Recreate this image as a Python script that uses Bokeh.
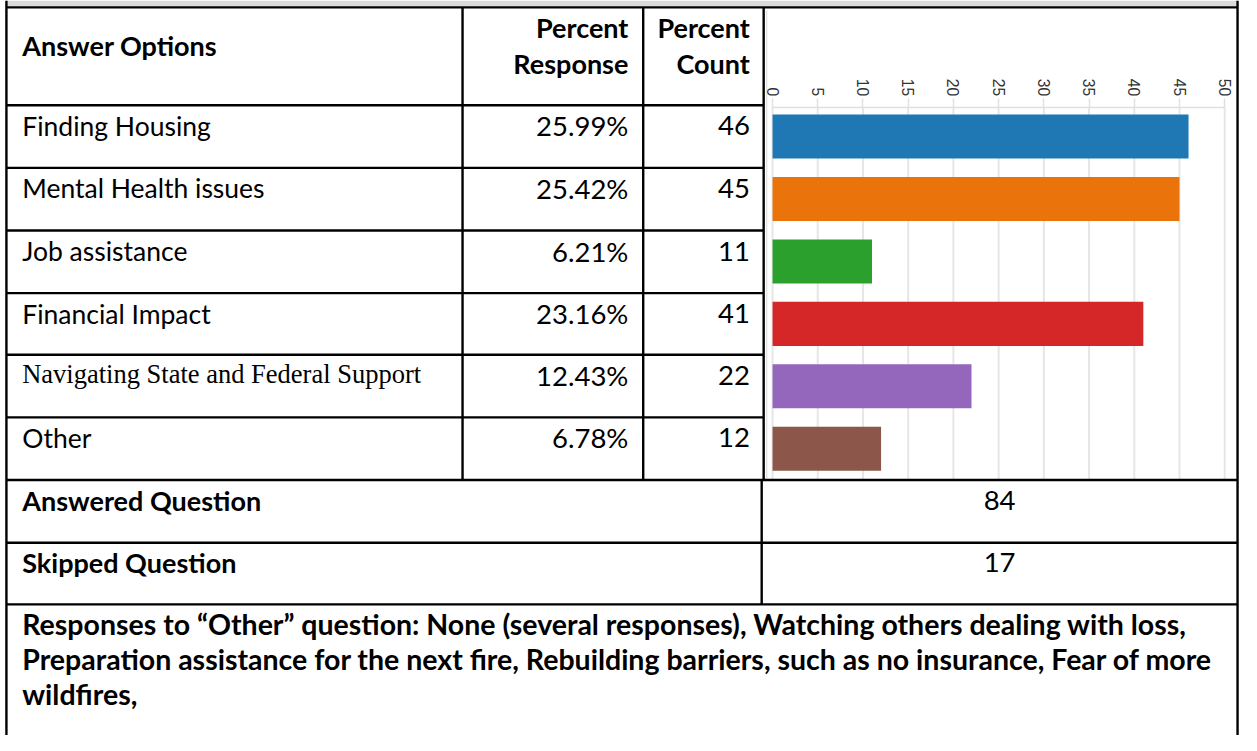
import math
from bokeh.plotting import figure
from bokeh.models import Range1d, LinearAxis, FixedTicker, ColumnDataSource
from bokeh.core.properties import value
from bokeh.embed import file_html
from bokeh.resources import INLINE

# ---------------- data ----------------
OPTIONS = [
    "Finding Housing",
    "Mental Health issues",
    "Job assistance",
    "Financial Impact",
    "Navigating State and Federal Support",
    "Other",
]
PERCENT_RESPONSE = [25.99, 25.42, 6.21, 23.16, 12.43, 6.78]
COUNTS = [46, 45, 11, 41, 22, 12]
BAR_COLORS = ["#1f77b4", "#ea730c", "#2ca02c", "#d62728", "#9467bd", "#8c564b"]
TICKS = [0, 5, 10, 15, 20, 25, 30, 35, 40, 45, 50]
HEADER_OPTIONS = "Answer Options"
HEADER_RESPONSE = ["Percent", "Response"]
HEADER_COUNT = ["Percent", "Count"]
ANSWERED_LABEL = "Answered Question"
ANSWERED = 84
SKIPPED_LABEL = "Skipped Question"
SKIPPED = 17
OTHER_LINES = [
    "Responses to \u201cOther\u201d question: None (several responses), Watching others dealing with loss,",
    "Preparation assistance for the next fire, Rebuilding barriers, such as no insurance, Fear of more",
    "wildfires,",
]

# ---------------- layout (reference pixel space) ----------------
REF_W, REF_H = 1257, 751
W, H = 1241, 735
FS = (W / REF_W + H / REF_H) / 2.0

LEFT, RIGHT = 6, 1253
TOP_LINE = 7
COL1, COL2, COL3, COL3B = 468, 651, 773, 771
HEAD_BOT = 107
ROW_LINES = [171, 235, 299, 362, 426]
ROWS_BOT = 490
SUM_LINES = [554, 617]
X0_PX, X50_PX = 782, 1240

def px(v):
    return "%.1fpx" % (v * FS)

p = figure(width=W, height=H, x_range=Range1d(0, REF_W), y_range=Range1d(REF_H, 0),
           output_backend="svg", toolbar_location=None,
           x_axis_location=None, y_axis_location=None, min_border=0,
           outline_line_color=None, background_fill_color="white",
           border_fill_color="white")
p.xgrid.visible = False
p.ygrid.visible = False

# value range and row range for the chart column
k = (X50_PX - X0_PX) / float(TICKS[-1] - TICKS[0])
p.extra_x_ranges = {"val": Range1d(-X0_PX / k, (REF_W - X0_PX) / k)}
pitch = (ROWS_BOT - HEAD_BOT) / float(len(OPTIONS))
p.extra_y_ranges = {"rows": Range1d((REF_H - HEAD_BOT) / pitch - 0.5, -HEAD_BOT / pitch - 0.5)}

# top grey band
p.quad(left=[LEFT], right=[RIGHT], top=[0], bottom=[TOP_LINE - 1], fill_color="#d9d9d9", line_color=None)

# chart faint frame line
p.segment(x0=[776], y0=[10], x1=[776], y1=[ROWS_BOT], line_color="#e4e4e4", line_width=1.5)

# grid lines
p.segment(x0=TICKS, y0=[109] * len(TICKS), x1=TICKS, y1=[ROWS_BOT] * len(TICKS),
          line_color="#e6e6e6", line_width=2, x_range_name="val")

# bars
src = ColumnDataSource(dict(idx=list(range(len(OPTIONS))), count=COUNTS, color=BAR_COLORS))
p.hbar(y="idx", left=0, right="count", height=0.705, fill_color="color", line_color=None,
       source=src, x_range_name="val", y_range_name="rows")

# axis
ax = LinearAxis(x_range_name="val", ticker=FixedTicker(ticks=TICKS), bounds=(TICKS[0], TICKS[-1]),
                fixed_location=109, major_label_orientation=-math.pi / 2,
                axis_line_color="#e0e0e0", axis_line_width=1.5,
                major_tick_line_color="#e0e0e0", major_tick_line_width=1.5,
                major_tick_out=9, major_tick_in=0, minor_tick_line_color=None,
                major_label_text_font="Liberation Sans", major_label_text_font_size=px(16),
                major_label_text_color="#333333", major_label_standoff=2)
p.add_layout(ax, "above")

# table lines
hx0, hy0, hx1, hy1 = [], [], [], []
def hline(y, x0, x1):
    hx0.append(x0); hx1.append(x1); hy0.append(y); hy1.append(y)
def vline(x, y0, y1):
    hx0.append(x); hx1.append(x); hy0.append(y0); hy1.append(y1)

hline(TOP_LINE, LEFT, RIGHT)
hline(HEAD_BOT, LEFT, COL3)
for y in ROW_LINES:
    hline(y, LEFT, COL3)
hline(ROWS_BOT, LEFT, RIGHT)
for y in SUM_LINES:
    hline(y, LEFT, RIGHT)
vline(LEFT, 0, REF_H)
vline(RIGHT, 0, REF_H)
vline(COL1, TOP_LINE, ROWS_BOT)
vline(COL2, TOP_LINE, ROWS_BOT)
vline(COL3, TOP_LINE, ROWS_BOT)
vline(COL3B, ROWS_BOT, SUM_LINES[-1])
p.segment(x0=hx0, y0=hy0, x1=hx1, y1=hy1, line_color="black", line_width=2.4)

SANS = "Lato"
SERIF = "Liberation Serif"

def txt(xs, ys, texts, align="left", bold=False, size=27, font=SANS, color="black"):
    p.text(x=xs, y=ys, text=texts, text_align=align, text_baseline="middle",
           text_font=value(font), text_font_size=px(size),
           text_font_style="bold" if bold else "normal", text_color=color)

# header
txt([22], [46], [HEADER_OPTIONS], bold=True, size=27.5)
txt([636, 636], [28, 64], HEADER_RESPONSE, align="right", bold=True, size=27.5)
txt([759, 759], [28, 64], HEADER_COUNT, align="right", bold=True, size=27.5)

# rows
row_tops = [HEAD_BOT] + ROW_LINES
label_y = [t + 21 for t in row_tops]
for i, name in enumerate(OPTIONS):
    if name.startswith("Navigating"):
        txt([22], [label_y[i] - 1], [name], font=SERIF, size=27)
    else:
        txt([22], [label_y[i]], [name])
txt([636] * len(OPTIONS), label_y, ["%.2f%%" % v for v in PERCENT_RESPONSE], align="right", size=28)
txt([759] * len(OPTIONS), label_y, [str(c) for c in COUNTS], align="right", size=28)

# summary rows
txt([22, 22], [ROWS_BOT + 21, SUM_LINES[0] + 20], [ANSWERED_LABEL, SKIPPED_LABEL], bold=True, size=27.5)
txt([(COL3B + RIGHT) / 2.0] * 2, [ROWS_BOT + 21, SUM_LINES[0] + 20], [str(ANSWERED), str(SKIPPED)],
    align="center", size=28)

# other responses
txt([22] * 3, [637, 673, 709], OTHER_LINES, bold=True, size=29)

open("out.html", "w").write(file_html(p, INLINE))
